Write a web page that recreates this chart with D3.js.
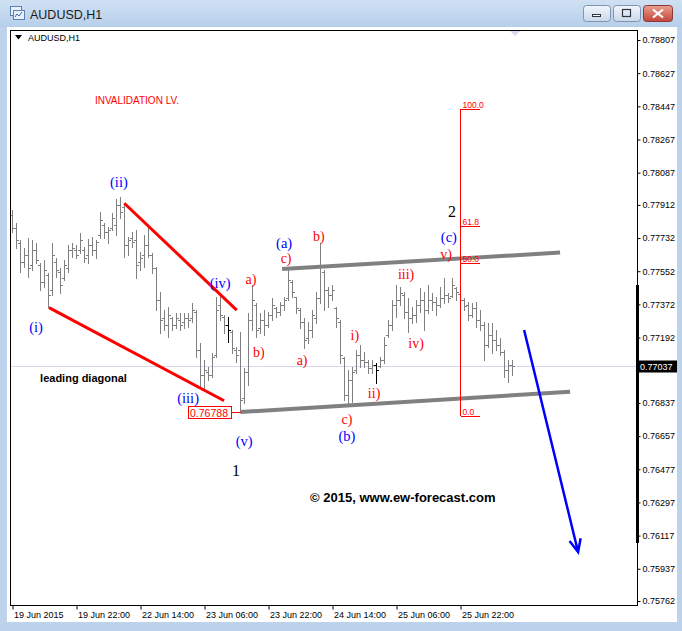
<!DOCTYPE html>
<html><head><meta charset="utf-8">
<script src="https://cdn.jsdelivr.net/npm/d3@7"></script>
<style>body{margin:0;background:#fff}svg{display:block}</style>
</head><body>
<svg id="c" width="682" height="631"></svg>
<script>
// ---------------- DATA (AUDUSD H1, hourly bars from 19 Jun 2015 06:00) ----------------
const opens=[.77857,.77787,.77705,.77602,.77640,.77586,.77667,.77586,.77493,.77531,
.77450,.77602,.77547,.77515,.77570,.77667,.77667,.77667,.77667,.77640,
.77694,.77667,.77749,.77803,.77765,.77787,.77803,.77911,.77900,.77694,
.77733,.77721,.77602,.77640,.77694,.77640,.77570,.77396,.77298,.77260,
.77298,.77260,.77287,.77276,.77298,.77298,.77330,.77124,.76989,.77005,
.76989,.77097,.77369,.77303,.77260,.77222,.77124,.77124,.76864,.77005,
.77287,.77369,.77244,.77287,.77260,.77314,.77353,.77330,.77369,.77407,
.77493,.77412,.77341,.77276,.77190,.77233,.77298,.77407,.77547,.77450,
.77423,.77353,.77276,.77081,.76880,.76962,.77016,.77097,.77070,.77059,
.77027,.77043,.77037,.77070,.77206,.77260,.77369,.77396,.77423,.77330,
.77298,.77314,.77369,.77396,.77341,.77396,.77385,.77369,.77407,.77423,
.77417,.77461,.77428,.77396,.77369,.77314,.77353,.77287,.77260,.77152,
.77206,.77179,.77152,.77113,.77016,.77043];
const highs=[.77884,.77814,.77721,.77678,.77733,.77721,.77705,.77597,.77613,.77542,
.77705,.77624,.77570,.77613,.77694,.77705,.77694,.77760,.77683,.77727,
.77738,.77721,.77873,.77814,.77792,.77868,.77944,.77955,.77922,.77738,
.77765,.77776,.77656,.77749,.77792,.77651,.77575,.77439,.77341,.77358,
.77303,.77325,.77325,.77325,.77325,.77380,.77341,.77163,.77070,.77032,
.77108,.77412,.77434,.77314,.77303,.77233,.77141,.77222,.77027,.77325,
.77477,.77380,.77325,.77341,.77330,.77407,.77358,.77385,.77412,.77570,
.77504,.77412,.77353,.77298,.77276,.77341,.77439,.77705,.77558,.77466,
.77477,.77358,.77287,.77086,.77016,.77032,.77124,.77152,.77113,.77070,
.77070,.77054,.77086,.77195,.77287,.77396,.77477,.77466,.77439,.77407,
.77358,.77396,.77461,.77439,.77477,.77434,.77412,.77466,.77515,.77434,
.77515,.77466,.77434,.77407,.77385,.77380,.77385,.77341,.77276,.77271,
.77271,.77233,.77190,.77124,.77070,.77070];
const lows=[.77765,.77678,.77547,.77575,.77520,.77558,.77597,.77450,.77466,.77358,
.77423,.77520,.77434,.77504,.77547,.77629,.77624,.77651,.77602,.77597,
.77640,.77624,.77733,.77733,.77705,.77776,.77749,.77841,.77629,.77640,
.77683,.77515,.77558,.77575,.77629,.77542,.77341,.77217,.77233,.77195,
.77233,.77244,.77233,.77244,.77249,.77276,.77086,.76924,.76907,.76962,
.76978,.77086,.77287,.77217,.77168,.77108,.77059,.76788,.76837,.76935,
.77233,.77195,.77217,.77206,.77249,.77287,.77303,.77314,.77341,.77396,
.77412,.77325,.77244,.77136,.77163,.77195,.77271,.77380,.77341,.77358,
.77396,.77249,.77054,.76853,.76826,.76842,.77000,.77032,.77032,.77000,
.77000,.76946,.77032,.77054,.77195,.77233,.77303,.77369,.77298,.77222,
.77271,.77276,.77330,.77233,.77325,.77341,.77314,.77358,.77380,.77385,
.77412,.77396,.77369,.77341,.77287,.77303,.77249,.77233,.77070,.77141,
.77108,.77124,.77097,.76978,.76951,.76989];
const closes=[.77787,.77721,.77602,.77640,.77570,.77667,.77613,.77493,.77558,.77423,
.77640,.77558,.77477,.77586,.77667,.77678,.77640,.77721,.77624,.77694,
.77667,.77710,.77830,.77765,.77776,.77841,.77911,.77873,.77694,.77721,
.77710,.77586,.77624,.77694,.77640,.77570,.77396,.77287,.77260,.77314,
.77260,.77298,.77260,.77298,.77287,.77341,.77124,.76989,.77016,.76989,
.77086,.77341,.77314,.77260,.77233,.77136,.77097,.76853,.77005,.77287,
.77396,.77233,.77287,.77260,.77314,.77369,.77330,.77369,.77396,.77504,
.77439,.77353,.77276,.77179,.77233,.77314,.77407,.77586,.77450,.77423,
.77450,.77298,.77097,.76880,.76962,.77005,.77097,.77070,.77059,.77027,
.77043,.77016,.77070,.77152,.77260,.77369,.77396,.77434,.77330,.77298,
.77314,.77369,.77396,.77341,.77396,.77385,.77369,.77407,.77423,.77407,
.77477,.77439,.77396,.77363,.77314,.77353,.77287,.77260,.77152,.77206,
.77179,.77152,.77113,.77016,.77043,.77037];
const blackBars=[54,91];
const currentPrice=0.77037;

const xTickIndex=[0,16,32,48,64,80,96,112];
const xTickLabels=["19 Jun 2015","19 Jun 22:00","22 Jun 14:00","23 Jun 06:00","23 Jun 22:00","24 Jun 14:00","25 Jun 06:00","25 Jun 22:00"];
const yTickValues=[0.78807,0.78627,0.78447,0.78267,0.78087,0.77912,0.77732,0.77552,0.77372,0.77192,0.77012,0.76837,0.76657,0.76477,0.76297,0.76117,0.75937,0.75762];

// annotation geometry in (bar index, price)
const diagUpper=[[27.95,0.77921],[56.05,0.77341]];
const diagLower=[[9.12,0.77354],[52.9,0.76849]];
const chanUpper=[[67.4,0.77564],[136.9,0.77653]];
const chanLower=[[57,0.76788],[139.4,0.76898]];
const arrowPts=[[127.9,0.77233],[141.4,0.76028]];
const fibIndex=112, fibLow=0.76766, fibHigh=0.78432;
const fibLevels=[[1,"100.0"],[0.618,"61.8"],[0.5,"50.0"],[0,"0.0"]];
const invalidation={i:57,p:0.76788,t:"0.76788"};

const waveLabels=[
 ["(i)",5.9,0.77249,"#0000ff",14.5],["(ii)",26.6,0.78036,"#0000ff",14.5],["(iii)",43.9,0.76865,"#0000ff",14.5],
 ["(iv)",51.9,0.77488,"#0000ff",14.5],["(v)",57.9,0.76630,"#0000ff",14.5],["1",55.9,0.76473,"#000",16],
 ["a)",59.6,0.77510,"#ff0000",14],["b)",61.6,0.77113,"#ff0000",14],["(a)",67.9,0.77705,"#0000ff",14.5],
 ["c)",68.4,0.77624,"#ff0000",14],["a)",72.4,0.77070,"#ff0000",14],["b)",76.6,0.77743,"#ff0000",14],
 ["i)",85.6,0.77206,"#ff0000",14],["ii)",90.4,0.76891,"#ff0000",14],["c)",83.6,0.76750,"#ff0000",14],
 ["(b)",83.6,0.76657,"#0000ff",14.5],["iii)",98.4,0.77537,"#ff0000",14],["iv)",100.9,0.77162,"#ff0000",14],
 ["v)",108.4,0.77645,"#ff0000",14],["(c)",109.1,0.77738,"#0000ff",14.5],["2",109.9,0.77879,"#000",16]
];
const notes=[
 {t:"leading diagonal",i:6.9,p:0.76972,c:"#000",w:"bold",s:11},
 {t:"INVALIDATION LV.",i:20.6,p:0.78481,c:"#ff0000",w:"normal",s:10},
 {t:"\u00a9 2015, www.ew-forecast.com",i:74.4,p:0.76326,c:"#000",w:"bold",s:13}
];

// ---------------- DRAW ----------------
const svg=d3.select("#c");
const SANS="'Liberation Sans', Arial, sans-serif";
const L=10.5,T=30.5,R=637.5,B=605.5;

const defs=svg.append("defs");
const tg=defs.append("linearGradient").attr("id","tb").attr("x1",0).attr("y1",0).attr("x2",0).attr("y2",1);
tg.append("stop").attr("offset",0).attr("stop-color","#cfe0f3");
tg.append("stop").attr("offset",1).attr("stop-color","#b7cfea");
const cg=defs.append("linearGradient").attr("id","cl").attr("x1",0).attr("y1",0).attr("x2",0).attr("y2",1);
cg.append("stop").attr("offset",0).attr("stop-color","#e8a090");
cg.append("stop").attr("offset",1).attr("stop-color","#c4453a");
const bg=defs.append("linearGradient").attr("id","bt").attr("x1",0).attr("y1",0).attr("x2",0).attr("y2",1);
bg.append("stop").attr("offset",0).attr("stop-color","#f2f6fb");
bg.append("stop").attr("offset",1).attr("stop-color","#c9d8ea");
defs.append("clipPath").attr("id","plot").append("rect").attr("x",L).attr("y",T).attr("width",R-L).attr("height",B-T);

// window chrome
svg.append("rect").attr("width",682).attr("height",631).attr("fill","#bdd3ec");
svg.append("rect").attr("width",682).attr("height",27).attr("fill","url(#tb)");
svg.append("rect").attr("x",7).attr("y",27).attr("width",670).attr("height",595).attr("fill","#fff");
// icon
const ic=svg.append("g").attr("transform","translate(10,6)");
ic.append("rect").attr("x",0.5).attr("y",0.5).attr("width",11).attr("height",9).attr("fill","#e8f0fa").attr("stroke","#5a7fb0");
ic.append("rect").attr("x",3.5).attr("y",4.5).attr("width",11).attr("height",9).attr("fill","#e8f0fa").attr("stroke","#5a7fb0");
ic.append("path").attr("d","M5,11 L7,8 L9,10 L12,6").attr("fill","none").attr("stroke","#3a6ab0");
svg.append("text").attr("x",30).attr("y",19).attr("font-family",SANS).attr("font-size",12.5).attr("fill","#1a1a1a").text("AUDUSD,H1");
// buttons
[[583,"min"],[613,"max"]].forEach(([bx,k])=>{
  svg.append("rect").attr("x",bx+0.5).attr("y",5.5).attr("width",27).attr("height",16).attr("rx",3).attr("fill","url(#bt)").attr("stroke","#7d93b2");
  if(k==="min") svg.append("rect").attr("x",bx+9.5).attr("y",14.5).attr("width",8).attr("height",2).attr("fill","#fff").attr("stroke","#334");
  else svg.append("rect").attr("x",bx+9.5).attr("y",9.5).attr("width",8).attr("height",7).attr("fill","none").attr("stroke","#334").attr("stroke-width",1.2);
});
svg.append("rect").attr("x",643.5).attr("y",5.5).attr("width",29).attr("height",16).attr("rx",3).attr("fill","url(#cl)").attr("stroke","#8a3a33");
svg.append("path").attr("d","M653,9.5 L663,17.5 M663,9.5 L653,17.5").attr("stroke","#fff").attr("stroke-width",2.2);

// scales
const x=d3.scaleLinear().domain([0,112]).range([12.5,460.5]);
const y=d3.scaleLinear().domain([0.75762,0.78807]).range([601,40]);
const ry=v=>Math.round(y(v));

// current price line
const plot=svg.append("g").attr("clip-path","url(#plot)");
plot.append("line").attr("x1",L).attr("x2",R).attr("y1",ry(currentPrice)+0.5).attr("y2",ry(currentPrice)+0.5).attr("stroke","#d6d6ef");
// shift marker
svg.append("path").attr("d","M510,31 L520,31 L515,36 Z").attr("fill","#d8d8f2");

// OHLC bars
plot.append("g").selectAll("path").data(d3.range(opens.length)).join("path")
  .attr("fill","none").attr("shape-rendering","crispEdges")
  .attr("stroke",i=>blackBars.includes(i)?"#000":"#808080")
  .attr("d",i=>{const xx=x(i);const yh=ry(highs[i]),yl=ry(lows[i]),yo=ry(opens[i])+0.5,yc=ry(closes[i])+0.5;
    return `M${xx},${yh}V${yl+1}M${xx-2.5},${yo}H${xx}M${xx},${yc}H${xx+2.5}`;});

const line=d3.line().x(d=>x(d[0])).y(d=>y(d[1]));
// channel
[chanUpper,chanLower].forEach(c=>plot.append("path").attr("d",line(c)).attr("stroke","#808080").attr("stroke-width",4).attr("fill","none"));
// leading diagonal
[diagUpper,diagLower].forEach(c=>plot.append("path").attr("d",line(c)).attr("stroke","#ff0000").attr("stroke-width",3).attr("fill","none"));

// fib tool
const fx=Math.round(x(fibIndex))-0.5;
const fg=plot.append("g").attr("shape-rendering","crispEdges");
fg.append("line").attr("x1",fx).attr("x2",fx).attr("y1",ry(fibHigh)).attr("y2",ry(fibLow)).attr("stroke","#ff0000");
fibLevels.forEach(([r,t])=>{const v=fibLow+r*(fibHigh-fibLow);const yy=ry(v)+0.5;
  fg.append("line").attr("x1",fx).attr("x2",fx+19).attr("y1",yy).attr("y2",yy).attr("stroke","#ff0000");
  fg.append("text").attr("x",fx+2).attr("y",yy-2).attr("font-family",SANS).attr("font-size",8.5).attr("fill","#ff0000").text(t);
});

// blue arrow
const a0=[x(arrowPts[0][0]),y(arrowPts[0][1])],a1=[x(arrowPts[1][0]),y(arrowPts[1][1])];
const ang=Math.atan2(a1[1]-a0[1],a1[0]-a0[0]);
const hl=14,ha=0.42;
plot.append("path").attr("fill","none").attr("stroke","#0000ff").attr("stroke-width",2.5)
  .attr("d",`M${a0[0]},${a0[1]}L${a1[0]},${a1[1]}M${a1[0]-hl*Math.cos(ang-ha)},${a1[1]-hl*Math.sin(ang-ha)}L${a1[0]},${a1[1]}L${a1[0]-hl*Math.cos(ang+ha)},${a1[1]-hl*Math.sin(ang+ha)}`);

// invalidation label box
const ix=x(invalidation.i),iy=ry(invalidation.p)+0.5;
plot.append("line").attr("x1",ix-10).attr("x2",ix).attr("y1",iy).attr("y2",iy).attr("stroke","#ff0000").attr("shape-rendering","crispEdges");
plot.append("rect").attr("x",Math.round(ix-53)+0.5).attr("y",iy-6).attr("width",43).attr("height",12).attr("fill","#fff").attr("stroke","#ff0000").attr("shape-rendering","crispEdges");
plot.append("text").attr("x",ix-31.5).attr("y",iy+4).attr("text-anchor","middle").attr("font-family",SANS).attr("font-size",10.5).attr("fill","#ff0000").text(invalidation.t);

// wave labels
plot.append("g").selectAll("text").data(waveLabels).join("text")
  .attr("x",d=>x(d[1])).attr("y",d=>y(d[2])).attr("dy","0.35em").attr("text-anchor","middle")
  .attr("font-family","'Liberation Serif','Times New Roman',serif").attr("font-size",d=>d[4]).attr("fill",d=>d[3]).text(d=>d[0]);
// notes
plot.append("g").selectAll("text").data(notes).join("text")
  .attr("x",d=>x(d.i)).attr("y",d=>y(d.p)).attr("dy","0.35em")
  .attr("font-family",SANS).attr("font-size",d=>d.s).attr("font-weight",d=>d.w).attr("fill",d=>d.c).text(d=>d.t);

// frame
svg.append("rect").attr("x",L).attr("y",T).attr("width",R-L).attr("height",B-T).attr("fill","none").attr("stroke","#000").attr("shape-rendering","crispEdges");
// top-left symbol label
svg.append("path").attr("d","M15,35 L22,35 L18.5,39.5 Z").attr("fill","#000");
svg.append("text").attr("x",28).attr("y",41).attr("font-family",SANS).attr("font-size",9).attr("fill","#000").text("AUDUSD,H1");

// y axis (the 0.77012 label sits under the current-price box)
const yAxis=d3.axisRight(y).tickValues(yTickValues).tickFormat(d=>Math.abs(d-0.77012)<1e-6?"":d3.format(".5f")(d)).tickSize(3).tickPadding(2);
const ya=svg.append("g").attr("transform",`translate(${R},0)`).call(yAxis);
ya.select(".domain").remove();
ya.selectAll("line").attr("stroke","#000");
ya.selectAll("text").attr("font-family",SANS).attr("font-size",9).attr("fill","#000");
// thick scale segment
svg.append("rect").attr("x",636).attr("y",285).attr("width",3).attr("height",258).attr("fill","#000");
// current price box
const cy=ry(currentPrice)+0.5;
svg.append("rect").attr("x",637).attr("y",cy-6).attr("width",40).attr("height",12).attr("fill","#000");
svg.append("text").attr("x",640).attr("y",cy+3.5).attr("font-family",SANS).attr("font-size",9).attr("fill","#fff").text(d3.format(".5f")(currentPrice));

// x axis
const xAxis=d3.axisBottom(x).tickValues(xTickIndex).tickFormat((d,k)=>xTickLabels[k]).tickSize(4).tickPadding(2);
const xa=svg.append("g").attr("transform",`translate(0,${B})`).call(xAxis);
xa.select(".domain").remove();
xa.selectAll("line").attr("stroke","#000");
xa.selectAll("text").attr("text-anchor","start").attr("dx",1).attr("font-family",SANS).attr("font-size",9).attr("fill","#000");
</script>
</body></html>
